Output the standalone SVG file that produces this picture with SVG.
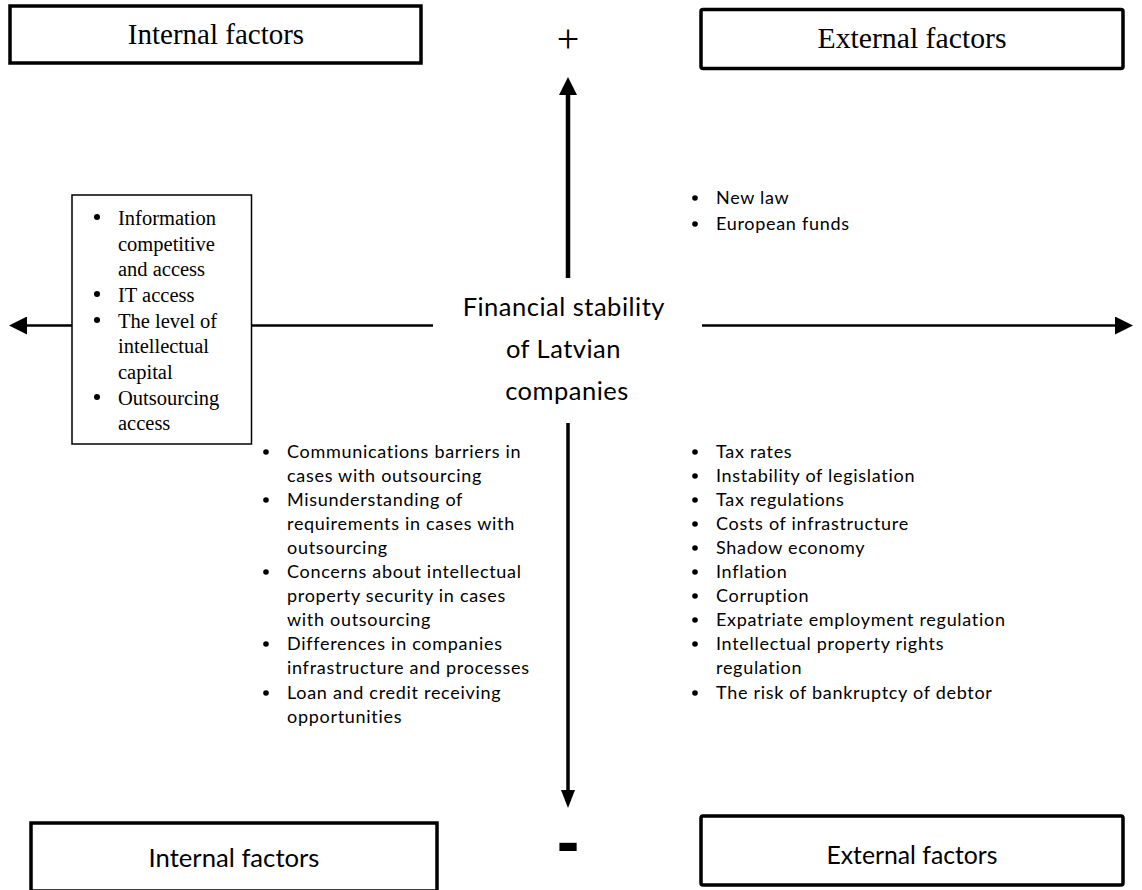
<svg xmlns="http://www.w3.org/2000/svg" width="1142" height="890" viewBox="0 0 1142 890">
  <style>
    .box { fill: #fff; stroke: #000; stroke-width: 3.5; }
    .serif { font-family: "Liberation Serif", "Times New Roman", serif; fill: #000; }
    .sans { font-family: Lato, "Liberation Sans", Arial, sans-serif; fill: #000; }
    .list { font-size: 18px; letter-spacing: 0.7px; }
    .axis { stroke: #000; fill: none; }
    .dot { fill: #000; }
  </style>
  <defs>
    <marker id="head" viewBox="0 0 18 18" refX="0" refY="9" markerWidth="18" markerHeight="18" markerUnits="userSpaceOnUse" orient="auto">
      <path d="M0,0 L18,9 L0,18 Z" fill="#000"/>
    </marker>
    <marker id="headNarrow" viewBox="0 0 18 14" refX="0" refY="7" markerWidth="18" markerHeight="14" markerUnits="userSpaceOnUse" orient="auto">
      <path d="M0,0 L18,7 L0,14 Z" fill="#000"/>
    </marker>
  </defs>

  <rect width="1142" height="890" fill="#fff"/>

  <!-- axes -->
  <g id="connectors">
    <line class="axis" x1="568" y1="278" x2="568" y2="95" stroke-width="4.5" marker-end="url(#head)"/>
    <line class="axis" x1="568" y1="423" x2="568" y2="790" stroke-width="3.5" marker-end="url(#headNarrow)"/>
    <line class="axis" x1="72" y1="325.5" x2="27" y2="325.5" stroke-width="2.5" marker-end="url(#head)"/>
    <line class="axis" x1="251" y1="325.5" x2="433" y2="325.5" stroke-width="2.5"/>
    <line class="axis" x1="702" y1="325.5" x2="1115" y2="325.5" stroke-width="2.5" marker-end="url(#head)"/>
  </g>

  <!-- sign labels -->
  <g id="sign-plus">
    <text class="serif" x="568" y="52" font-size="40" text-anchor="middle">+</text>
  </g>
  <g id="sign-minus">
    <text x="568" y="865" font-family="Liberation Sans, Arial, sans-serif" font-weight="bold" font-size="68" text-anchor="middle">-</text>
  </g>

  <!-- quadrant headers -->
  <g id="internal-top">
    <rect class="box" x="10" y="6" width="411" height="57"/>
    <text class="serif" x="216" y="44" font-size="29" text-anchor="middle">Internal factors</text>
  </g>
  <g id="external-top">
    <rect class="box" x="701" y="9.5" width="422" height="59" rx="2"/>
    <text class="serif" x="912" y="48" font-size="29" text-anchor="middle" textLength="189" lengthAdjust="spacingAndGlyphs">External factors</text>
  </g>
  <g id="internal-bottom">
    <rect class="box" x="31" y="823" width="406" height="68"/>
    <text class="sans" x="234" y="867" font-size="25" text-anchor="middle" textLength="171" lengthAdjust="spacingAndGlyphs">Internal factors</text>
  </g>
  <g id="external-bottom">
    <rect class="box" x="701" y="816" width="422" height="69" rx="2"/>
    <text class="sans" x="912" y="864" font-size="25" text-anchor="middle" textLength="171" lengthAdjust="spacingAndGlyphs">External factors</text>
  </g>

  <!-- centre -->
  <g id="center">
    <text class="sans" font-size="25.5" letter-spacing="0.5" text-anchor="middle">
      <tspan x="567" y="316">Financial stability</tspan>
      <tspan x="567" y="358">of Latvian</tspan>
      <tspan x="567" y="400">companies</tspan>
    </text>
  </g>

  <!-- internal positive factors -->
  <g id="internal-positive">
    <rect x="72" y="195" width="179.5" height="249" fill="#fff" stroke="#000" stroke-width="1.5"/>
    <circle class="dot" cx="97" cy="217" r="3"/>
    <circle class="dot" cx="97" cy="294" r="3"/>
    <circle class="dot" cx="97" cy="320" r="3"/>
    <circle class="dot" cx="97" cy="397" r="3"/>
    <text class="serif" font-size="20.5">
      <tspan x="118" y="225">Information</tspan>
      <tspan x="118" y="251">competitive</tspan>
      <tspan x="118" y="276">and access</tspan>
      <tspan x="118" y="302">IT access</tspan>
      <tspan x="118" y="328">The level of</tspan>
      <tspan x="118" y="353">intellectual</tspan>
      <tspan x="118" y="379">capital</tspan>
      <tspan x="118" y="405">Outsourcing</tspan>
      <tspan x="118" y="430">access</tspan>
    </text>
  </g>

  <!-- external positive factors -->
  <g id="external-positive">
    <circle class="dot" cx="695" cy="198" r="2.8"/>
    <circle class="dot" cx="695" cy="224" r="2.8"/>
    <text class="sans list">
      <tspan x="716" y="204">New law</tspan>
      <tspan x="716" y="230">European funds</tspan>
    </text>
  </g>

  <!-- internal negative factors -->
  <g id="internal-negative">
    <circle class="dot" cx="266" cy="452" r="2.8"/>
    <circle class="dot" cx="266" cy="500" r="2.8"/>
    <circle class="dot" cx="266" cy="572" r="2.8"/>
    <circle class="dot" cx="266" cy="644" r="2.8"/>
    <circle class="dot" cx="266" cy="693" r="2.8"/>
    <text class="sans list">
      <tspan x="287" y="458">Communications barriers in</tspan>
      <tspan x="287" y="482">cases with outsourcing</tspan>
      <tspan x="287" y="506">Misunderstanding of</tspan>
      <tspan x="287" y="530">requirements in cases with</tspan>
      <tspan x="287" y="554">outsourcing</tspan>
      <tspan x="287" y="578">Concerns about intellectual</tspan>
      <tspan x="287" y="602">property security in cases</tspan>
      <tspan x="287" y="626">with outsourcing</tspan>
      <tspan x="287" y="650">Differences in companies</tspan>
      <tspan x="287" y="674">infrastructure and processes</tspan>
      <tspan x="287" y="699">Loan and credit  receiving</tspan>
      <tspan x="287" y="723">opportunities</tspan>
    </text>
  </g>

  <!-- external negative factors -->
  <g id="external-negative">
    <circle class="dot" cx="695" cy="452" r="2.8"/>
    <circle class="dot" cx="695" cy="476" r="2.8"/>
    <circle class="dot" cx="695" cy="500" r="2.8"/>
    <circle class="dot" cx="695" cy="524" r="2.8"/>
    <circle class="dot" cx="695" cy="548" r="2.8"/>
    <circle class="dot" cx="695" cy="572" r="2.8"/>
    <circle class="dot" cx="695" cy="596" r="2.8"/>
    <circle class="dot" cx="695" cy="620" r="2.8"/>
    <circle class="dot" cx="695" cy="644" r="2.8"/>
    <circle class="dot" cx="695" cy="693" r="2.8"/>
    <text class="sans list">
      <tspan x="716" y="458">Tax rates</tspan>
      <tspan x="716" y="482">Instability of legislation</tspan>
      <tspan x="716" y="506">Tax regulations</tspan>
      <tspan x="716" y="530">Costs of infrastructure</tspan>
      <tspan x="716" y="554">Shadow economy</tspan>
      <tspan x="716" y="578">Inflation</tspan>
      <tspan x="716" y="602">Corruption</tspan>
      <tspan x="716" y="626">Expatriate employment regulation</tspan>
      <tspan x="716" y="650">Intellectual property rights</tspan>
      <tspan x="716" y="674">regulation</tspan>
      <tspan x="716" y="699">The risk of bankruptcy of debtor</tspan>
    </text>
  </g>
</svg>
